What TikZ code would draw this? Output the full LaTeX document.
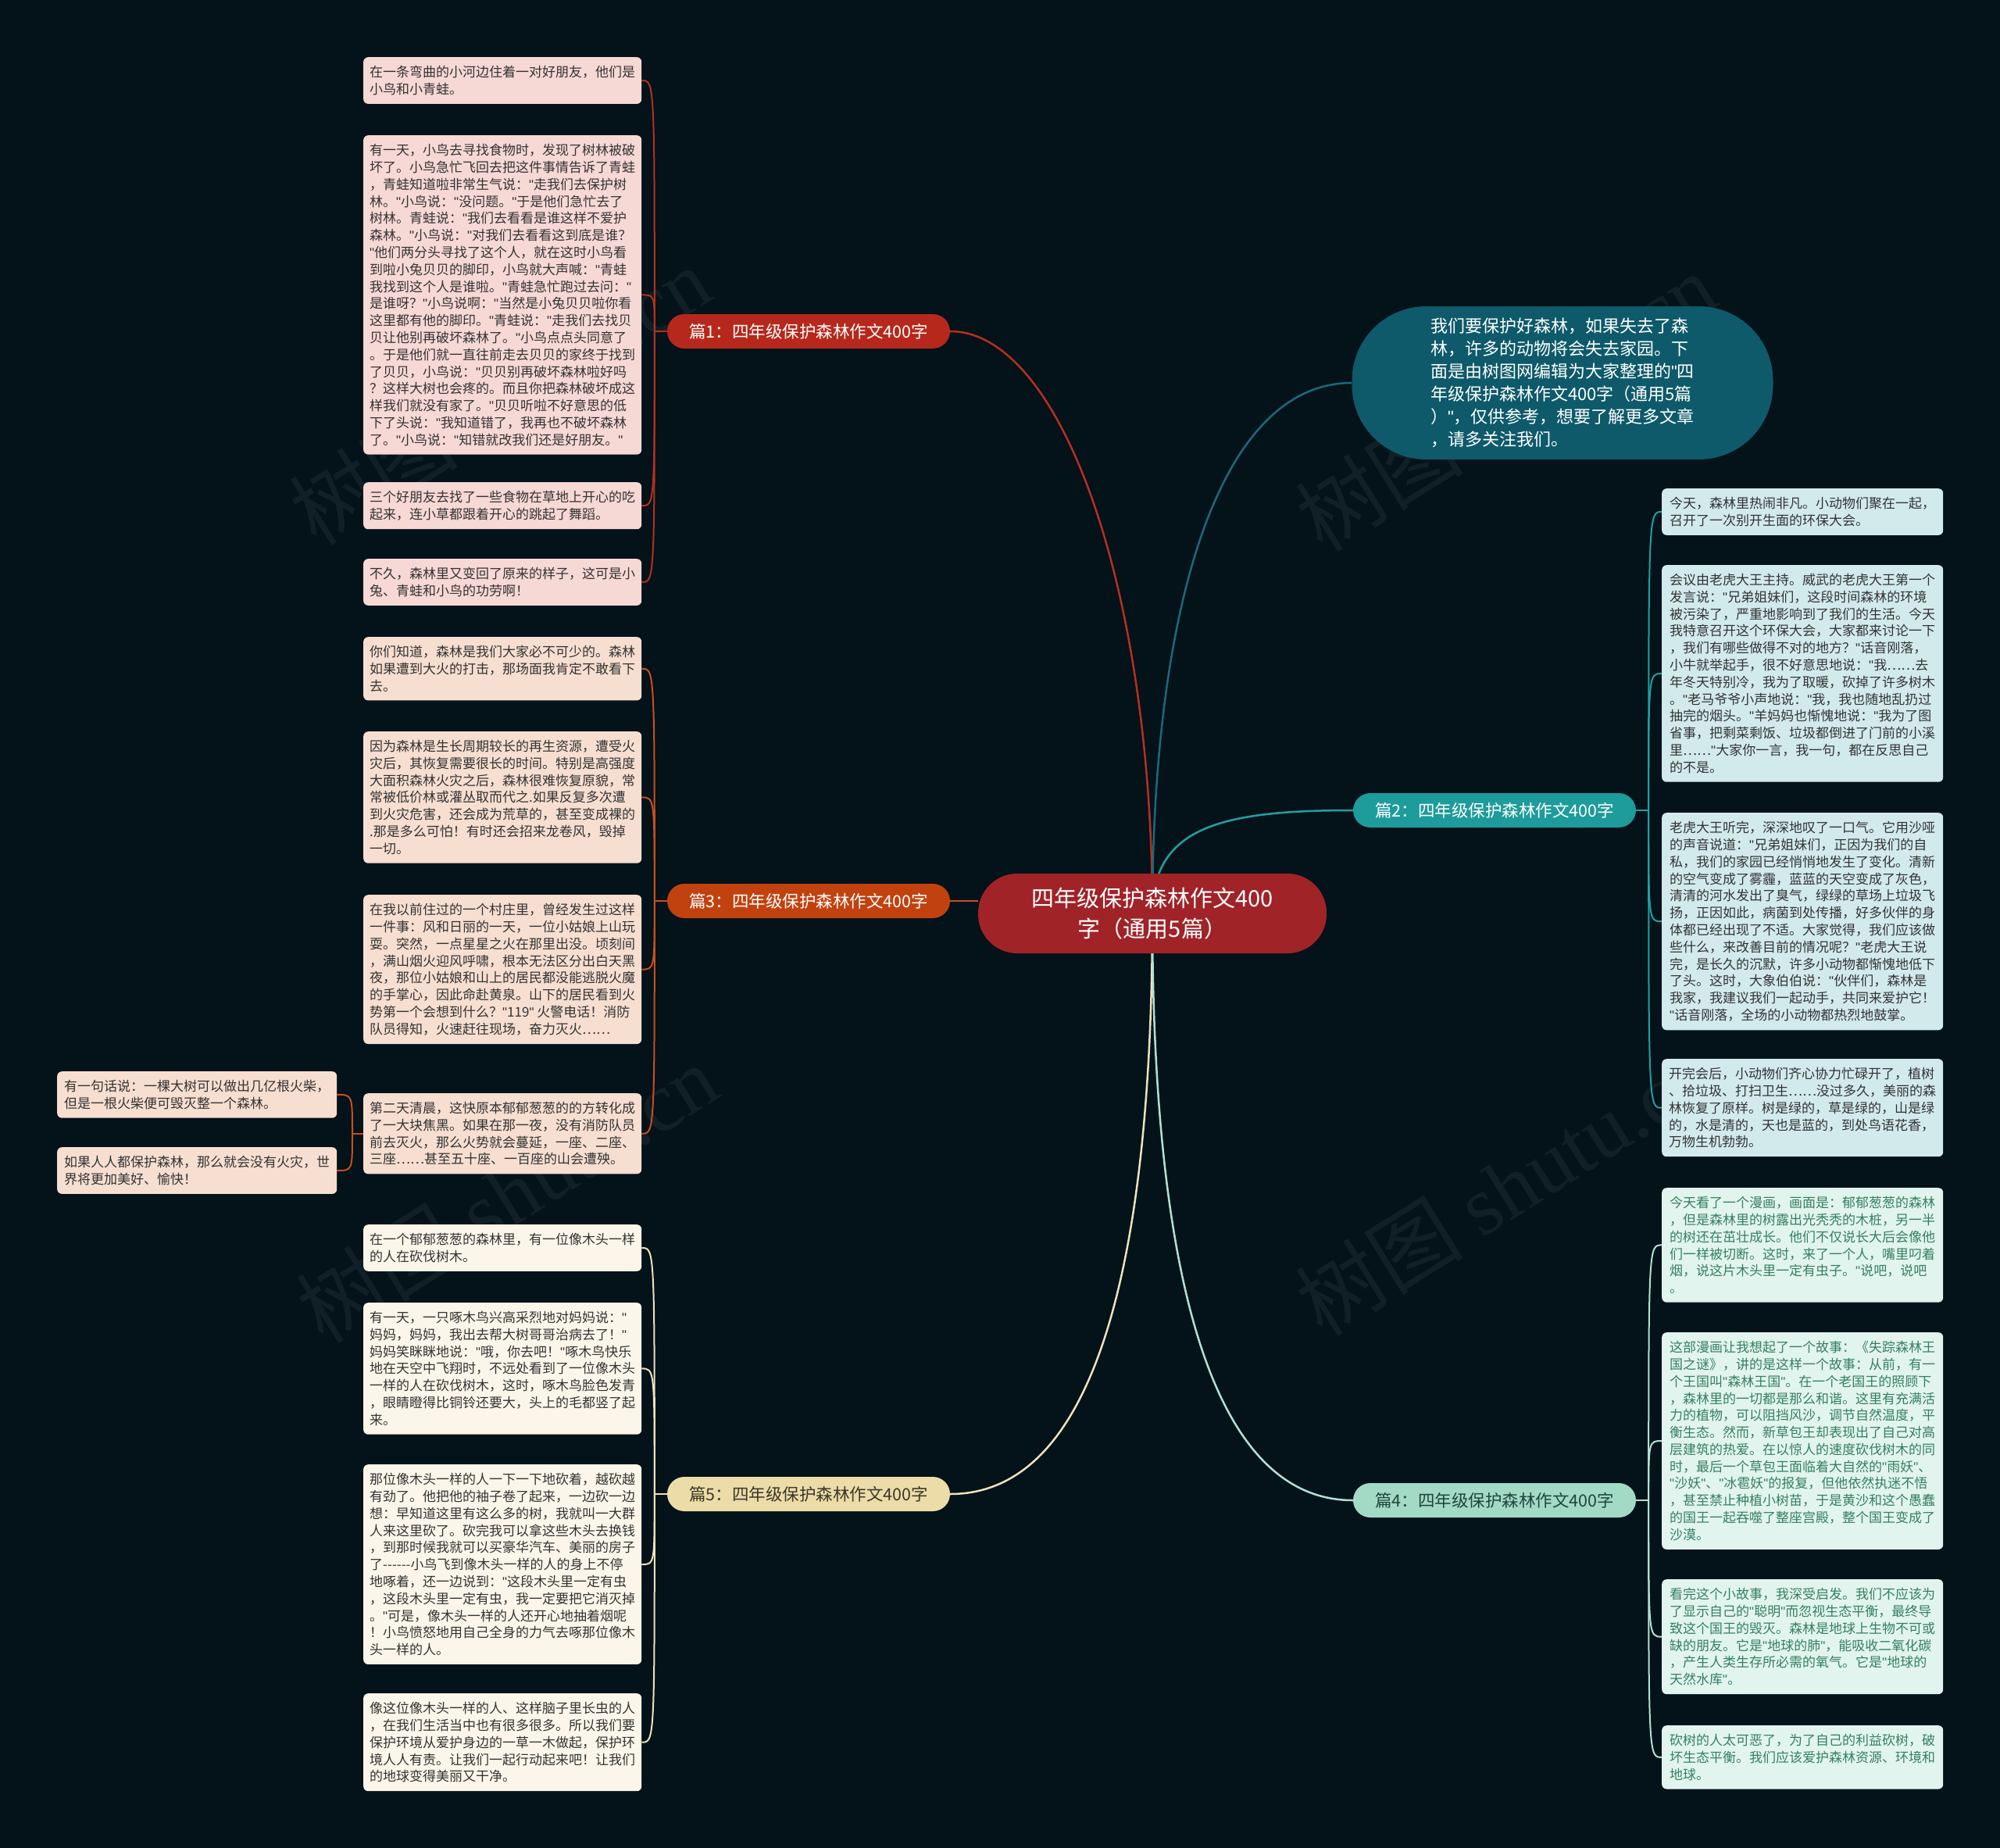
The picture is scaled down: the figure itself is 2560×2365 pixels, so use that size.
\documentclass[tikz,border=0pt]{standalone}
\usepackage{fontspec}
\setmainfont{Noto Sans CJK SC}
\newfontfamily\wmfont{Liberation Serif}
\newfontfamily\qf{Liberation Sans}
\usetikzlibrary{calc}
\pgfdeclarelayer{bg}
\pgfdeclarelayer{edges}
\pgfsetlayers{bg,edges,main}

\definecolor{bgc}{RGB}{4,18,26}
\definecolor{rootc}{RGB}{160,35,40}
\definecolor{pa}{RGB}{182,40,28}
\definecolor{la}{RGB}{181,48,30}
\definecolor{fa}{RGB}{246,216,212}
\definecolor{pc}{RGB}{193,66,14}
\definecolor{lc}{RGB}{200,80,28}
\definecolor{fc}{RGB}{246,222,208}
\definecolor{pe}{RGB}{236,220,168}
\definecolor{te}{RGB}{60,55,40}
\definecolor{le}{RGB}{238,226,186}
\definecolor{fe}{RGB}{251,246,233}
\definecolor{pb}{RGB}{30,155,155}
\definecolor{lb}{RGB}{34,160,160}
\definecolor{fb}{RGB}{210,234,236}
\definecolor{pd}{RGB}{162,218,198}
\definecolor{td}{RGB}{30,70,60}
\definecolor{ld}{RGB}{176,226,208}
\definecolor{fd}{RGB}{226,244,238}
\definecolor{tdl}{RGB}{52,128,98}
\definecolor{bubc}{RGB}{14,90,106}
\definecolor{bubl}{RGB}{26,105,125}
\definecolor{leaftext}{RGB}{51,51,51}
\definecolor{wmk}{RGB}{17,31,39}

\tikzset{
  leafbox/.style={rounded corners=6pt, align=left, anchor=north west, inner xsep=8pt, inner ysep=11pt,
    font=\fontsize{17pt}{21.8pt}\selectfont, text=leaftext},
  leafL/.style={leafbox, minimum width=356pt},
  leafR/.style={leafbox, minimum width=360pt},
  leafS/.style={leafbox, minimum width=358pt},
  lab/.style={rounded corners=22pt, minimum width=362pt, minimum height=44pt, inner sep=0pt,
    font=\fontsize{21.5pt}{25pt}\selectfont},
  mainlink/.style={line width=2.5pt},
  leaflink/.style={line width=2pt},
  wm/.style={rotate=32, text=wmk, font=\fontsize{108pt}{108pt}\selectfont}
}

\begin{document}
{\catcode`\"=\active \gdef"{{\qf\char34\relax}}}
\catcode`\"=\active
\begin{tikzpicture}[x=1pt,y=-1pt]
\useasboundingbox (0,0) rectangle (2560,2365);
\begin{pgfonlayer}{bg}
\fill[bgc] (0,0) rectangle (2560,2365);
\node[wm] (w1) at (640,506) {树图 {\wmfont shutu.cn}};
\node[wm] (w2) at (1927,514) {树图 {\wmfont shutu.cn}};
\node[wm] (w3) at (649,1527) {树图 {\wmfont shutu.cn}};
\node[wm] (w4) at (1927,1518) {树图 {\wmfont shutu.cn}};
\end{pgfonlayer}

% root and branches
\node[fill=rootc, text=white, rounded corners=50pt, minimum width=446pt, minimum height=102pt, align=center,
  font=\fontsize{29pt}{39pt}\selectfont] (root) at (1475,1169) {四年级保护森林作文400\\字（通用5篇）};
\node[fill=bubc, text=white, rounded corners=95pt, minimum width=539pt, minimum height=196pt, align=left,
  font=\fontsize{22pt}{29pt}\selectfont] (bub) at (2000,490) {我们要保护好森林，如果失去了森\\林，许多的动物将会失去家园。下\\面是由树图网编辑为大家整理的"四\\年级保护森林作文400字（通用5篇\\）"，仅供参考，想要了解更多文章\\，请多关注我们。};
\node[lab, fill=pa, text=white] (p1) at (1035,424) {篇1：四年级保护森林作文400字};
\node[lab, fill=pc, text=white] (p3) at (1035,1153) {篇3：四年级保护森林作文400字};
\node[lab, fill=pe, text=te] (p5) at (1035,1912) {篇5：四年级保护森林作文400字};
\node[lab, fill=pb, text=white] (p2) at (1913,1037) {篇2：四年级保护森林作文400字};
\node[lab, fill=pd, text=td] (p4) at (1913,1920) {篇4：四年级保护森林作文400字};

% branch 1 leaves
\node[leafL, fill=fa] (a1) at (465,73) {在一条弯曲的小河边住着一对好朋友，他们是\\小鸟和小青蛙。};
\node[leafL, fill=fa] (a2) at (465,173) {有一天，小鸟去寻找食物时，发现了树林被破\\坏了。小鸟急忙飞回去把这件事情告诉了青蛙\\，青蛙知道啦非常生气说："走我们去保护树\\林。"小鸟说："没问题。"于是他们急忙去了\\树林。青蛙说："我们去看看是谁这样不爱护\\森林。"小鸟说："对我们去看看这到底是谁？\\"他们两分头寻找了这个人，就在这时小鸟看\\到啦小兔贝贝的脚印，小鸟就大声喊："青蛙\\我找到这个人是谁啦。"青蛙急忙跑过去问："\\是谁呀？"小鸟说啊："当然是小兔贝贝啦你看\\这里都有他的脚印。"青蛙说："走我们去找贝\\贝让他别再破坏森林了。"小鸟点点头同意了\\。于是他们就一直往前走去贝贝的家终于找到\\了贝贝，小鸟说："贝贝别再破坏森林啦好吗\\？这样大树也会疼的。而且你把森林破坏成这\\样我们就没有家了。"贝贝听啦不好意思的低\\下了头说："我知道错了，我再也不破坏森林\\了。"小鸟说："知错就改我们还是好朋友。"};
\node[leafL, fill=fa] (a3) at (465,617) {三个好朋友去找了一些食物在草地上开心的吃\\起来，连小草都跟着开心的跳起了舞蹈。};
\node[leafL, fill=fa] (a4) at (465,715) {不久，森林里又变回了原来的样子，这可是小\\兔、青蛙和小鸟的功劳啊！};

% branch 3 leaves
\node[leafL, fill=fc] (c1) at (465,815) {你们知道，森林是我们大家必不可少的。森林\\如果遭到大火的打击，那场面我肯定不敢看下\\去。};
\node[leafL, fill=fc] (c2) at (465,936) {因为森林是生长周期较长的再生资源，遭受火\\灾后，其恢复需要很长的时间。特别是高强度\\大面积森林火灾之后，森林很难恢复原貌，常\\常被低价林或灌丛取而代之.如果反复多次遭\\到火灾危害，还会成为荒草的，甚至变成裸的\\.那是多么可怕！有时还会招来龙卷风，毁掉\\一切。};
\node[leafL, fill=fc] (c3) at (465,1145) {在我以前住过的一个村庄里，曾经发生过这样\\一件事：风和日丽的一天，一位小姑娘上山玩\\耍。突然，一点星星之火在那里出没。顷刻间\\，满山烟火迎风呼啸，根本无法区分出白天黑\\夜，那位小姑娘和山上的居民都没能逃脱火魔\\的手掌心，因此命赴黄泉。山下的居民看到火\\势第一个会想到什么？"119" 火警电话！消防\\队员得知，火速赶往现场，奋力灭火……};
\node[leafL, fill=fc] (c4) at (465,1399) {第二天清晨，这快原本郁郁葱葱的的方转化成\\了一大块焦黑。如果在那一夜，没有消防队员\\前去灭火，那么火势就会蔓延，一座、二座、\\三座……甚至五十座、一百座的山会遭殃。};
\node[leafS, fill=fc] (s1) at (73,1371) {有一句话说：一棵大树可以做出几亿根火柴，\\但是一根火柴便可毁灭整一个森林。};
\node[leafS, fill=fc] (s2) at (73,1468) {如果人人都保护森林，那么就会没有火灾，世\\界将更加美好、愉快！};

% branch 5 leaves
\node[leafL, fill=fe] (e1) at (465,1567) {在一个郁郁葱葱的森林里，有一位像木头一样\\的人在砍伐树木。};
\node[leafL, fill=fe] (e2) at (465,1667) {有一天，一只啄木鸟兴高采烈地对妈妈说："\\妈妈，妈妈，我出去帮大树哥哥治病去了！"\\妈妈笑眯眯地说："哦，你去吧！"啄木鸟快乐\\地在天空中飞翔时，不远处看到了一位像木头\\一样的人在砍伐树木，这时，啄木鸟脸色发青\\，眼睛瞪得比铜铃还要大，头上的毛都竖了起\\来。};
\node[leafL, fill=fe] (e3) at (465,1874) {那位像木头一样的人一下一下地砍着，越砍越\\有劲了。他把他的袖子卷了起来，一边砍一边\\想：早知道这里有这么多的树，我就叫一大群\\人来这里砍了。砍完我可以拿这些木头去换钱\\，到那时候我就可以买豪华汽车、美丽的房子\\了\mbox{-}\mbox{-}\mbox{-}\mbox{-}\mbox{-}\mbox{-}小鸟飞到像木头一样的人的身上不停\\地啄着，还一边说到："这段木头里一定有虫\\，这段木头里一定有虫，我一定要把它消灭掉\\。"可是，像木头一样的人还开心地抽着烟呢\\！小鸟愤怒地用自己全身的力气去啄那位像木\\头一样的人。};
\node[leafL, fill=fe] (e4) at (465,2167) {像这位像木头一样的人、这样脑子里长虫的人\\，在我们生活当中也有很多很多。所以我们要\\保护环境从爱护身边的一草一木做起，保护环\\境人人有责。让我们一起行动起来吧！让我们\\的地球变得美丽又干净。};

% branch 2 leaves
\node[leafR, fill=fb] (b1) at (2127,625) {今天，森林里热闹非凡。小动物们聚在一起，\\召开了一次别开生面的环保大会。};
\node[leafR, fill=fb] (b2) at (2127,723) {会议由老虎大王主持。威武的老虎大王第一个\\发言说："兄弟姐妹们，这段时间森林的环境\\被污染了，严重地影响到了我们的生活。今天\\我特意召开这个环保大会，大家都来讨论一下\\，我们有哪些做得不对的地方？"话音刚落，\\小牛就举起手，很不好意思地说："我……去\\年冬天特别冷，我为了取暖，砍掉了许多树木\\。"老马爷爷小声地说："我，我也随地乱扔过\\抽完的烟头。"羊妈妈也惭愧地说："我为了图\\省事，把剩菜剩饭、垃圾都倒进了门前的小溪\\里……"大家你一言，我一句，都在反思自己\\的不是。};
\node[leafR, fill=fb] (b3) at (2127,1040) {老虎大王听完，深深地叹了一口气。它用沙哑\\的声音说道："兄弟姐妹们，正因为我们的自\\私，我们的家园已经悄悄地发生了变化。清新\\的空气变成了雾霾，蓝蓝的天空变成了灰色，\\清清的河水发出了臭气，绿绿的草场上垃圾飞\\扬，正因如此，病菌到处传播，好多伙伴的身\\体都已经出现了不适。大家觉得，我们应该做\\些什么，来改善目前的情况呢？"老虎大王说\\完，是长久的沉默，许多小动物都惭愧地低下\\了头。这时，大象伯伯说："伙伴们，森林是\\我家，我建议我们一起动手，共同来爱护它！\\"话音刚落，全场的小动物都热烈地鼓掌。};
\node[leafR, fill=fb] (b4) at (2127,1355) {开完会后，小动物们齐心协力忙碌开了，植树\\、拾垃圾、打扫卫生……没过多久，美丽的森\\林恢复了原样。树是绿的，草是绿的，山是绿\\的，水是清的，天也是蓝的，到处鸟语花香，\\万物生机勃勃。};

% branch 4 leaves
\node[leafR, fill=fd, text=tdl] (d1) at (2127,1520) {今天看了一个漫画，画面是：郁郁葱葱的森林\\，但是森林里的树露出光秃秃的木桩，另一半\\的树还在茁壮成长。他们不仅说长大后会像他\\们一样被切断。这时，来了一个人，嘴里叼着\\烟，说这片木头里一定有虫子。"说吧，说吧\\。};
\node[leafR, fill=fd, text=tdl] (d2) at (2127,1705) {这部漫画让我想起了一个故事：《失踪森林王\\国之谜》，讲的是这样一个故事：从前，有一\\个王国叫"森林王国"。在一个老国王的照顾下\\，森林里的一切都是那么和谐。这里有充满活\\力的植物，可以阻挡风沙，调节自然温度，平\\衡生态。然而，新草包王却表现出了自己对高\\层建筑的热爱。在以惊人的速度砍伐树木的同\\时，最后一个草包王面临着大自然的"雨妖"、\\"沙妖"、"冰雹妖"的报复，但他依然执迷不悟\\，甚至禁止种植小树苗，于是黄沙和这个愚蠢\\的国王一起吞噬了整座宫殿，整个国王变成了\\沙漠。};
\node[leafR, fill=fd, text=tdl] (d3) at (2127,2021) {看完这个小故事，我深受启发。我们不应该为\\了显示自己的"聪明"而忽视生态平衡，最终导\\致这个国王的毁灭。森林是地球上生物不可或\\缺的朋友。它是"地球的肺"，能吸收二氧化碳\\，产生人类生存所必需的氧气。它是"地球的\\天然水库"。};
\node[leafR, fill=fd, text=tdl] (d4) at (2127,2208) {砍树的人太可恶了，为了自己的利益砍树，破\\坏生态平衡。我们应该爱护森林资源、环境和\\地球。};

% junctions
\coordinate (j1) at ([xshift=-16pt]p1.west);
\coordinate (j3) at ([xshift=-16pt]p3.west);
\coordinate (j5) at ([xshift=-16pt]p5.west);
\coordinate (j2) at ([xshift=16pt]p2.east);
\coordinate (j4) at ([xshift=16pt]p4.east);
\coordinate (jc) at ([xshift=-14pt]c4.west);

\begin{pgfonlayer}{edges}
% main links
\draw[mainlink, la] (p1.east) .. controls +(140,0) and +(0,-420) .. (root.center);
\draw[mainlink, bubl] (bub.west) .. controls +(-171,0) and +(0,-390) .. (root.center);
\draw[mainlink, lb] (p2.west) .. controls +(-170,0) and +(0,-110) .. (root.center);
\draw[mainlink, lc] (p3.east) -- (p3.east -| root.west);
\draw[mainlink, le] (p5.east) .. controls +(200,0) and +(0,400) .. (root.center);
\draw[mainlink, ld] (p4.west) .. controls +(-200,0) and +(0,400) .. (root.center);
% branch 1
\draw[leaflink, la] (p1.west) -- (j1);
\foreach \n in {a1,a2,a3,a4} \draw[leaflink, la] (j1) .. controls (j1 |- \n.east) .. (\n.east);
% branch 3
\draw[leaflink, lc] (p3.west) -- (j3);
\foreach \n in {c1,c2,c3,c4} \draw[leaflink, lc] (j3) .. controls (j3 |- \n.east) .. (\n.east);
\draw[leaflink, lc] (c4.west) -- (jc);
\foreach \n in {s1,s2} \draw[leaflink, lc] (jc) .. controls (jc |- \n.east) .. (\n.east);
% branch 5
\draw[leaflink, le] (p5.west) -- (j5);
\foreach \n in {e1,e2,e3,e4} \draw[leaflink, le] (j5) .. controls (j5 |- \n.east) .. (\n.east);
% branch 2
\draw[leaflink, lb] (p2.east) -- (j2);
\foreach \n in {b1,b2,b3,b4} \draw[leaflink, lb] (j2) .. controls (j2 |- \n.west) .. (\n.west);
% branch 4
\draw[leaflink, ld] (p4.east) -- (j4);
\foreach \n in {d1,d2,d3,d4} \draw[leaflink, ld] (j4) .. controls (j4 |- \n.west) .. (\n.west);
\end{pgfonlayer}
\end{tikzpicture}
\end{document}
